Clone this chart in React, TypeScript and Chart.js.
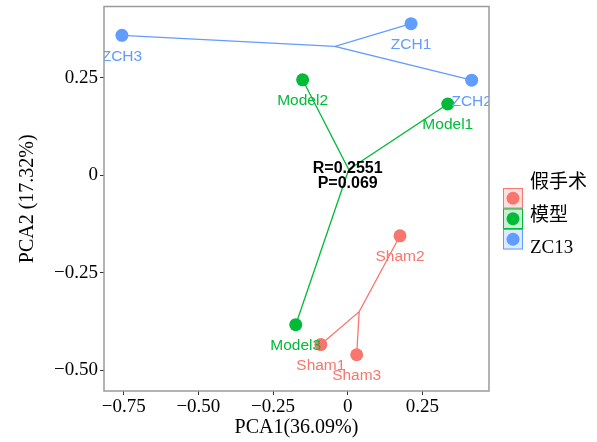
import React, { useEffect, useRef } from "react";
import { Chart, registerables } from "chart.js";

Chart.register(...registerables);

// ---- data ----
const SAMPLES = ["Sham1", "Sham2", "Sham3", "Model1", "Model2", "Model3", "ZCH1", "ZCH2", "ZCH3"];
const PC1 = [-0.09, 0.175, 0.03, 0.335, -0.151, -0.174, 0.212, 0.415, -0.756];
const PC2 = [-0.434, -0.155, -0.46, 0.183, 0.245, -0.383, 0.389, 0.244, 0.359];
const GROUP_OF = [0, 0, 0, 1, 1, 1, 2, 2, 2];
const GROUPS = ["假手术", "模型", "ZC13"];
const X_TICKS = [-0.75, -0.5, -0.25, 0, 0.25];
const Y_TICKS = [-0.5, -0.25, 0, 0.25];
const STAT_LINES = ["R=0.2551", "P=0.069"];
const X_TITLE = "PCA1(36.09%)";
const Y_TITLE = "PCA2 (17.32%)";

// ---- style ----
const COLORS = ["#F8766D", "#00BA38", "#619CFF"];
const FILLS = ["rgba(248,118,109,0.22)", "rgba(0,186,56,0.22)", "rgba(97,156,255,0.22)"];
const SERIF = "'Liberation Serif', 'Times New Roman', 'Noto Sans CJK SC', serif";
const SANS = "'Liberation Sans', Arial, Helvetica, sans-serif";

const fmt = (v: number) => (v === 0 ? "0" : (v < 0 ? "\u2212" : "") + Math.abs(v).toFixed(2));

export default function App() {
  const ref = useRef<HTMLCanvasElement | null>(null);

  useEffect(() => {
    if (!ref.current) return;

    const datasets: any[] = [];
    GROUPS.forEach((g, gi) => {
      const idx = SAMPLES.map((_, i) => i).filter((i) => GROUP_OF[i] === gi);
      const cx = idx.reduce((s, i) => s + PC1[i], 0) / idx.length;
      const cy = idx.reduce((s, i) => s + PC2[i], 0) / idx.length;
      const spoke: any[] = [];
      idx.forEach((i, k) => {
        if (k > 0) spoke.push({ x: cx, y: cy });
        spoke.push({ x: PC1[i], y: PC2[i] });
        if (k === 0) spoke.push({ x: cx, y: cy });
      });
      datasets.push({
        type: "line",
        label: g + "-spokes",
        data: spoke,
        borderColor: COLORS[gi],
        borderWidth: 1.3,
        pointRadius: 0,
        fill: false,
        tension: 0,
        order: 3,
      });
      datasets.push({
        type: "scatter",
        label: g,
        data: idx.map((i) => ({ x: PC1[i], y: PC2[i] })),
        backgroundColor: COLORS[gi],
        borderWidth: 0,
        pointRadius: 6.5,
        pointHoverRadius: 6.5,
        order: 1,
      });
    });

    const overlay = {
      id: "overlay",
      afterDatasetsDraw(chart: any) {
        const { ctx, chartArea, scales } = chart;
        const xs = scales.x, ys = scales.y;
        ctx.save();
        ctx.beginPath();
        ctx.rect(chartArea.left, chartArea.top, chartArea.right - chartArea.left, chartArea.bottom - chartArea.top);
        ctx.clip();
        // sample labels
        ctx.font = `15.5px ${SANS}`;
        ctx.textAlign = "center";
        ctx.textBaseline = "alphabetic";
        SAMPLES.forEach((s, i) => {
          ctx.fillStyle = COLORS[GROUP_OF[i]];
          ctx.fillText(s, xs.getPixelForValue(PC1[i]), ys.getPixelForValue(PC2[i]) + 25.5);
        });
        // stats text
        ctx.fillStyle = "#000";
        ctx.font = `bold 16px ${SANS}`;
        ctx.textBaseline = "middle";
        const x0 = xs.getPixelForValue(0);
        const y0 = ys.getPixelForValue(0);
        ctx.fillText(STAT_LINES[0], x0, y0 - 6.5);
        ctx.fillText(STAT_LINES[1], x0, y0 + 8.5);
        ctx.restore();

        // panel border
        ctx.save();
        ctx.strokeStyle = "#9a9a9a";
        ctx.lineWidth = 1.5;
        ctx.strokeRect(chartArea.left, chartArea.top, chartArea.right - chartArea.left, chartArea.bottom - chartArea.top);
        ctx.restore();
      },
      afterDraw(chart: any) {
        const { ctx } = chart;
        ctx.save();
        const boxX = 503, boxW = 20, boxH = 20.5;
        const boxTops = [188, 208.5, 229];
        const labelY = [183, 216, 248];
        GROUPS.forEach((g, gi) => {
          const top = boxTops[gi];
          ctx.fillStyle = FILLS[gi];
          ctx.fillRect(boxX, top, boxW, boxH);
          ctx.strokeStyle = COLORS[gi];
          ctx.lineWidth = 1;
          ctx.strokeRect(boxX + 0.5, top + 0.5, boxW - 1, boxH - 1);
          ctx.fillStyle = COLORS[gi];
          ctx.beginPath();
          ctx.arc(boxX + boxW / 2, top + boxH / 2, 6.5, 0, Math.PI * 2);
          ctx.fill();
          ctx.fillStyle = "#000";
          ctx.font = `19px ${SERIF}`;
          ctx.textAlign = "left";
          ctx.textBaseline = "middle";
          ctx.fillText(g, 530, labelY[gi]);
        });
        ctx.restore();
      },
    };

    const chart = new Chart(ref.current, {
      data: { datasets },
      options: {
        animation: false,
        responsive: false,
        events: [],
        layout: { padding: { top: 5, right: 108, left: 0, bottom: 0 } },
        plugins: { legend: { display: false }, tooltip: { enabled: false } },
        scales: {
          x: {
            type: "linear",
            position: "bottom",
            min: -0.816,
            max: 0.473,
            afterFit: (s: any) => { s.height = 51; s.paddingLeft = 0; s.paddingRight = 0; },
            afterBuildTicks: (s: any) => { s.ticks = X_TICKS.map((v) => ({ value: v })); },
            ticks: {
              callback: (v: any) => fmt(Number(v)),
              font: { family: SERIF, size: 19 },
              color: "#000",
              padding: 1,
              maxRotation: 0,
              autoSkip: false,
            },
            grid: { drawOnChartArea: false, drawTicks: true, tickLength: 4, color: "#333", lineWidth: 1 },
            border: { display: false },
            title: {
              display: true,
              text: X_TITLE,
              font: { family: SERIF, size: 20 },
              color: "#000",
              padding: { top: 0, bottom: 2 },
            },
          },
          y: {
            type: "linear",
            position: "left",
            min: -0.553,
            max: 0.433,
            afterFit: (s: any) => { s.width = 104; s.paddingTop = 0; s.paddingBottom = 0; },
            afterBuildTicks: (s: any) => { s.ticks = Y_TICKS.map((v) => ({ value: v })); },
            ticks: {
              callback: (v: any) => fmt(Number(v)),
              font: { family: SERIF, size: 19 },
              color: "#000",
              padding: 2,
              autoSkip: false,
            },
            grid: { drawOnChartArea: false, drawTicks: true, tickLength: 4, color: "#333", lineWidth: 1 },
            border: { display: false },
            title: {
              display: true,
              text: Y_TITLE,
              font: { family: SERIF, size: 20 },
              color: "#000",
              padding: { top: 16, bottom: 0 },
            },
          },
        },
      },
      plugins: [overlay],
    } as any);

    return () => chart.destroy();
  }, []);

  return (
    <div style={{ position: "fixed", left: 0, top: 0, width: 597, height: 442, background: "#fff" }}>
      <canvas ref={ref} width={597} height={442} style={{ width: 597, height: 442, display: "block" }} />
    </div>
  );
}
